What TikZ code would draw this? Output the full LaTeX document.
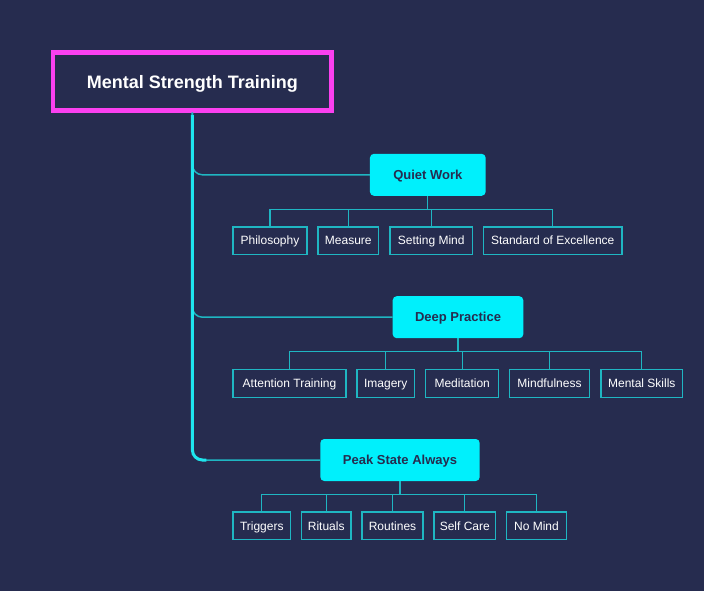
\documentclass[tikz,border=0pt]{standalone}
\usepackage{fontspec}
\setmainfont{Liberation Sans}
\usetikzlibrary{calc}
\definecolor{bgnavy}{HTML}{262C4F}
\definecolor{rootpink}{HTML}{FA40F0}
\definecolor{topiccyan}{HTML}{00F0FC}
\definecolor{trunkcyan}{HTML}{1EE6EE}
\definecolor{leafteal}{HTML}{1FB6C2}

\begin{document}
\begin{tikzpicture}[x=1pt, y=-1pt,
    root/.style={draw=rootpink, line width=4.7pt, text=white,
        font=\fontsize{18}{20}\selectfont\bfseries,
        text height=16.5pt, text depth=2pt,
        minimum width=278.6pt, minimum height=58pt, inner sep=0pt},
    topic/.style={fill=topiccyan, rounded corners=4pt, text=bgnavy,
        font=\fontsize{13}{15}\selectfont\bfseries,
        text height=11.3pt, text depth=2pt,
        minimum height=42pt, inner sep=0pt},
    leaf/.style={draw=leafteal, line width=1.4pt, text=white,
        font=\fontsize{12}{14}\selectfont,
        text height=10.6pt, text depth=2pt,
        minimum height=27.6pt, inner sep=0pt},
    trunk/.style={draw=trunkcyan, line width=3pt},
    branch/.style={draw=leafteal, line width=1.5pt, rounded corners=10pt},
    twig/.style={draw=leafteal, line width=1.2pt}]

    % Background
    \fill[bgnavy] (0,0) rectangle (704,591);
    \useasboundingbox (0,0) rectangle (704,591);

    % Root
    \node[root] (msroot) at (192.4,81.4) {Mental Strength Training};

    % Topics
    \node[topic, minimum width=115.7pt] (quiet) at (427.8,174.8) {Quiet Work};
    \node[topic, minimum width=130.6pt] (deep) at (458,317.2) {Deep Practice};
    \node[topic, minimum width=159.4pt] (peak) at (400,460) {Peak State Always};

    % Leaves of Quiet Work
    \node[leaf, minimum width=74pt] (philo) at (270,240.6) {Philosophy};
    \node[leaf, minimum width=60.6pt] (measure) at (348.3,240.6) {Measure};
    \node[leaf, minimum width=82.3pt] (setmind) at (431.2,240.6) {Setting Mind};
    \node[leaf, minimum width=138.6pt] (stdexc) at (552.7,240.6) {Standard of Excellence};

    % Leaves of Deep Practice
    \node[leaf, minimum width=113pt] (attn) at (289.5,383.5) {Attention Training};
    \node[leaf, minimum width=57.6pt] (imagery) at (385.8,383.5) {Imagery};
    \node[leaf, minimum width=72.9pt] (medit) at (462.2,383.5) {Meditation};
    \node[leaf, minimum width=80.2pt] (mindful) at (549.5,383.5) {Mindfulness};
    \node[leaf, minimum width=81.6pt] (mskills) at (641.8,383.5) {Mental Skills};

    % Leaves of Peak State Always
    \node[leaf, minimum width=57.6pt] (trig) at (261.8,525.8) {Triggers};
    \node[leaf, minimum width=49.6pt] (ritual) at (326.2,525.8) {Rituals};
    \node[leaf, minimum width=61pt] (routine) at (392.5,525.8) {Routines};
    \node[leaf, minimum width=61.6pt] (selfcare) at (464.8,525.8) {Self Care};
    \node[leaf, minimum width=60.2pt] (nomind) at (536.5,525.8) {No Mind};

    % Bus lines
    \coordinate (quietbus) at (0,209.3);
    \coordinate (deepbus) at (0,351.7);
    \coordinate (peakbus) at (0,494.3);

    % Branches from the root
    \foreach \t in {quiet,deep,peak}
        \draw[branch] (msroot.south) |- (\t.west);
    \draw[trunk, rounded corners=10pt, shorten <=2.4pt]
        (msroot.south) |- ($(msroot.south|-peak.west)+(14,0)$);

    % Twigs to the leaves
    \foreach \n in {philo,measure,setmind,stdexc}
        \draw[twig] (quiet.south) -- (quiet.south|-quietbus) -| (\n.north);
    \foreach \n in {attn,imagery,medit,mindful,mskills}
        \draw[twig] (deep.south) -- (deep.south|-deepbus) -| (\n.north);
    \foreach \n in {trig,ritual,routine,selfcare,nomind}
        \draw[twig] (peak.south) -- (peak.south|-peakbus) -| (\n.north);
\end{tikzpicture}
\end{document}
